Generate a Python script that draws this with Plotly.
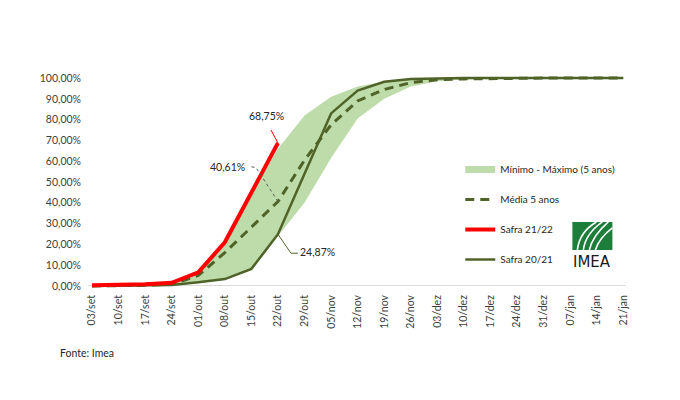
import plotly.graph_objects as go

# ---------------- data ----------------
categories = ["03/set", "10/set", "17/set", "24/set", "01/out", "08/out", "15/out",
              "22/out", "29/out", "05/nov", "12/nov", "19/nov", "26/nov", "03/dez",
              "10/dez", "17/dez", "24/dez", "31/dez", "07/jan", "14/jan", "21/jan"]

safra_2122 = [0.3, 0.5, 0.8, 1.5, 6.5, 21.0, 45.0, 68.75]
safra_2021 = [0.0, 0.1, 0.2, 0.5, 1.8, 3.3, 8.2, 24.87, 54.0, 83.0, 94.0, 98.2,
              99.5, 99.9, 100, 100, 100, 100, 100, 100, 100]
media_5 = [0.0, 0.1, 0.3, 0.8, 5.0, 16.0, 28.5, 40.61, 60.5, 77.5, 89.0, 94.5,
           97.8, 99.2, 99.6, 99.8, 99.9, 100, 100, 100, 100]
min_5 = [0.0, 0.0, 0.1, 0.4, 1.3, 3.0, 7.5, 24.0, 40.0, 61.5, 80.5, 90.0,
         96.0, 98.5, 99.3, 99.7, 99.9, 100, 100, 100, 100]
max_5 = [0.3, 0.5, 0.8, 1.4, 5.8, 19.5, 43.5, 66.0, 82.0, 91.0, 96.0, 98.3,
         99.7, 100, 100, 100, 100, 100, 100, 100, 100]

y_ticks = [0, 10, 20, 30, 40, 50, 60, 70, 80, 90, 100]

names = ["Mínimo - Máximo (5 anos)", "Média 5 anos", "Safra 21/22", "Safra 20/21"]


def pct(v):
    return f"{v:.2f}".replace(".", ",") + "%"


y_tick_labels = [pct(v) for v in y_ticks]

# ---------------- style ----------------
BAND = "#bddcaa"
OLIVE = "#4f6228"
RED = "#ff0000"
TXT = "#404040"
FONT = "Lato"

W, H = 680, 400
L, R, T, B = 88, 625.6, 75.9, 288.1


def px_x(p):
    return (p - L) / (R - L)


def px_y(p):
    return (B - p) / (B - T)


fig = go.Figure()

# band
fig.add_trace(go.Scatter(x=categories, y=min_5, mode="lines", line=dict(width=0, color=BAND),
                         showlegend=False, hoverinfo="skip"))
fig.add_trace(go.Scatter(x=categories, y=max_5, mode="lines", line=dict(width=0, color=BAND),
                         fill="tonexty", fillcolor=BAND, showlegend=False, hoverinfo="skip"))
# legend proxy for band
fig.add_trace(go.Scatter(x=[None], y=[None], mode="lines", line=dict(color=BAND, width=7),
                         name=names[0], legendgroup="a", legendrank=1))
fig.add_trace(go.Scatter(x=categories, y=media_5, mode="lines", name=names[1],
                         line=dict(color=OLIVE, width=3, dash="9px,6px"),
                         legendgroup="b", legendrank=2))
fig.add_trace(go.Scatter(x=categories, y=safra_2021, mode="lines", name=names[3],
                         line=dict(color=OLIVE, width=2.5), legendgroup="d", legendrank=4))
fig.add_trace(go.Scatter(x=categories[:len(safra_2122)], y=safra_2122, mode="lines",
                         name=names[2], line=dict(color=RED, width=4),
                         legendgroup="c", legendrank=3))

i_last = len(safra_2122) - 1

annotations = [
    dict(x=categories[i_last], y=safra_2122[i_last], xref="x", yref="y", text=pct(safra_2122[i_last]),
         showarrow=False, xshift=-11, yshift=27, font=dict(size=10.5, color="#262626", family=FONT)),
    dict(x=categories[i_last], y=media_5[i_last], xref="x", yref="y", text=pct(media_5[i_last]),
         showarrow=False, xshift=-50, yshift=35, font=dict(size=10.5, color="#262626", family=FONT)),
    dict(x=categories[i_last], y=safra_2021[i_last], xref="x", yref="y", text=pct(safra_2021[i_last]),
         showarrow=False, xshift=40, yshift=-18, font=dict(size=10.5, color="#262626", family=FONT)),
    dict(x=px_x(58), y=px_y(353), xref="paper", yref="paper", text="Fonte: Imea",
         showarrow=False, xanchor="left", yanchor="middle", font=dict(size=10.5, color="#262626", family=FONT)),
    dict(x=px_x(592), y=px_y(262), xref="paper", yref="paper", text="IMEA",
         showarrow=False, xanchor="center", yanchor="middle",
         font=dict(size=15, color="#1a1a1a", family="DejaVu Sans")),
]

shapes = [
    # leader lines
    dict(type="path", xref="x", yref="y", xsizemode="pixel", ysizemode="pixel",
         xanchor=categories[i_last], yanchor=safra_2122[i_last],
         path="M 0,0 L -7,13", line=dict(color=RED, width=1)),
    dict(type="path", xref="x", yref="y", xsizemode="pixel", ysizemode="pixel",
         xanchor=categories[i_last], yanchor=media_5[i_last],
         path="M 0,0 L -22,34 L -29,35", line=dict(color="#595959", width=1, dash="dot")),
    dict(type="path", xref="x", yref="y", xsizemode="pixel", ysizemode="pixel",
         xanchor=categories[i_last], yanchor=safra_2021[i_last],
         path="M 0,0 L 13,-19 L 20,-19", line=dict(color=OLIVE, width=1)),
    # logo
    dict(type="rect", xref="paper", yref="paper", x0=px_x(572), x1=px_x(612),
         y0=px_y(250), y1=px_y(222), fillcolor="#1d7d3a", line=dict(width=0)),
]
for p in ["M 5,0 Q 7,18 24,28", "M 11,0 Q 13,16 30,28", "M 17,0 Q 20,14 36,28", "M 23,0 Q 27,12 40,22"]:
    shapes.append(dict(type="path", xref="paper", yref="paper", xsizemode="pixel", ysizemode="pixel",
                       xanchor=px_x(572), yanchor=px_y(250), path=p,
                       line=dict(color="white", width=1.6)))

fig.update_layout(
    width=W, height=H,
    margin=dict(l=L, r=W - R, t=T, b=H - B, autoexpand=False),
    paper_bgcolor="white", plot_bgcolor="white",
    separators=",.",
    font=dict(family=FONT, size=11, color=TXT),
    showlegend=True,
    legend=dict(x=px_x(460), y=px_y(155), xanchor="left", yanchor="top",
                font=dict(size=10, color="#262626", family=FONT),
                bgcolor="rgba(0,0,0,0)", itemwidth=30, tracegroupgap=11,
                traceorder="grouped"),
    annotations=annotations,
    shapes=shapes,
    xaxis=dict(type="category", range=[-0.15, len(categories) - 1 + 0.1], showgrid=False,
               showline=False, zeroline=False, tickangle=-90, ticks="", ticklabelstandoff=4,
               tickfont=dict(size=10.5, color=TXT, family=FONT), fixedrange=True),
    yaxis=dict(range=[-1, 101], tickvals=y_ticks, ticktext=y_tick_labels,
               showgrid=False, zeroline=True, zerolinecolor="#d9d9d9", zerolinewidth=1,
               showline=False, ticks="", ticklabelstandoff=6,
               tickfont=dict(size=10.5, color=TXT, family=FONT), fixedrange=True),
)

fig.write_html("out.html", config={"displayModeBar": False},
               post_script="document.body.style.margin='0';document.body.style.padding='0';")
